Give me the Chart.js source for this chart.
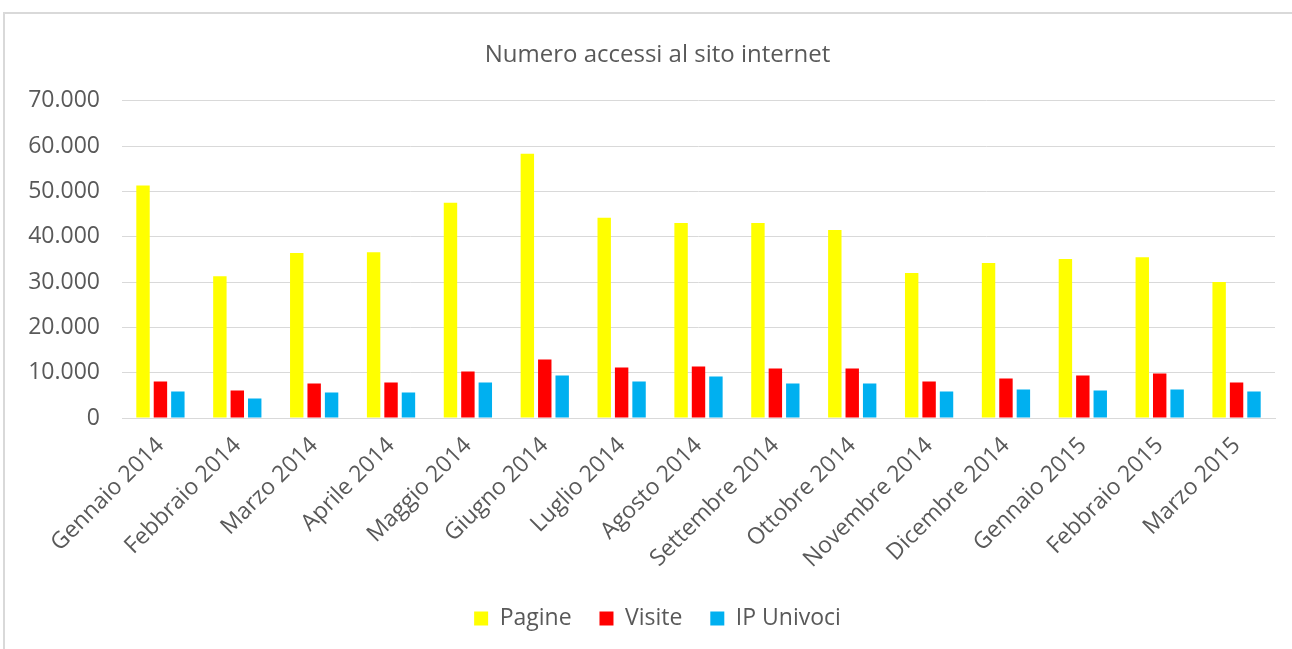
<!DOCTYPE html>
<html>
<head>
<meta charset="utf-8">
<script src="https://cdn.jsdelivr.net/npm/chart.js@4"></script>
<style>
  html, body { margin: 0; padding: 0; background: #fff; overflow: hidden; }
  #frame { position: absolute; left: 3px; top: 12px; width: 1400px; height: 700px; border: 2px solid #d9d9d9; }
  #wrap { position: absolute; left: 0; top: 0; width: 1292px; height: 649px; }
</style>
</head>
<body>
<div id="frame"></div>
<div id="wrap"><canvas id="chart"></canvas></div>
<script>
const months = [
  'Gennaio 2014','Febbraio 2014','Marzo 2014','Aprile 2014','Maggio 2014',
  'Giugno 2014','Luglio 2014','Agosto 2014','Settembre 2014','Ottobre 2014',
  'Novembre 2014','Dicembre 2014','Gennaio 2015','Febbraio 2015','Marzo 2015',
];
const pagine = [51300, 31300, 36400, 36600, 47500, 58300, 44200, 43050, 43050, 41500, 32000, 34200, 35100, 35500, 30000];
const visite = [8050, 6050, 7600, 7850, 10250, 12900, 11150, 11350, 10950, 10950, 8050, 8700, 9400, 9800, 7850];
const ipUnivoci = [5850, 4300, 5600, 5600, 7850, 9400, 8050, 9150, 7600, 7600, 5850, 6300, 6050, 6300, 5850];
const yMin = 0, yMax = 70000, yStep = 10000;

const textColor = '#595959';
const gridColor = '#d9d9d9';
const fontFamily = '"Open Sans", sans-serif';

const fmt = v => String(v).replace(/\B(?=(\d{3})+(?!\d))/g, '.');

// title and legend are centred a bit right of the canvas centre in the original
const shiftBoxes = {
  id: 'shiftBoxes',
  afterLayout(chart) {
    chart.titleBlock.left = 40;
    chart.legend.left = 40;
  }
};

new Chart(document.getElementById('chart'), {
  type: 'bar',
  data: {
    labels: months,
    datasets: [
      { label: 'Pagine', data: pagine, backgroundColor: '#ffff00' },
      { label: 'Visite', data: visite, backgroundColor: '#ff0000' },
      { label: 'IP Univoci', data: ipUnivoci, backgroundColor: '#00b0f0' },
    ]
  },
  plugins: [shiftBoxes],
  options: {
    responsive: true,
    maintainAspectRatio: false,
    animation: false,
    categoryPercentage: 0.68,
    barPercentage: 0.77,
    layout: { padding: { left: 0, right: 17, top: 0, bottom: 9 } },
    plugins: {
      title: {
        display: true,
        text: 'Numero accessi al sito internet',
        color: textColor,
        font: { family: fontFamily, size: 24, weight: 'normal' },
        padding: { top: 41, bottom: 31 },
      },
      legend: {
        position: 'bottom',
        labels: {
          color: textColor,
          font: { family: fontFamily, size: 23 },
          boxWidth: 14,
          boxHeight: 14,
          padding: 10,
          generateLabels: chart => {
            const items = Chart.defaults.plugins.legend.labels.generateLabels(chart);
            // wider gaps between entries, as in the original
            items.forEach((it, i) => { if (i < items.length - 1) it.text += '   '; });
            return items;
          },
        }
      },
      tooltip: { enabled: false },
    },
    scales: {
      x: {
        grid: { display: false },
        border: { display: true, color: gridColor },
        ticks: {
          color: textColor,
          font: { family: fontFamily, size: 23 },
          minRotation: 45,
          maxRotation: 45,
          autoSkip: false,
          padding: 6,
        },
        afterFit: s => { s.height = 179; },
      },
      y: {
        min: yMin,
        max: yMax,
        grid: { color: gridColor, lineWidth: 1, drawTicks: false },
        border: { display: false },
        ticks: {
          stepSize: yStep,
          color: textColor,
          font: { family: fontFamily, size: 23 },
          padding: 22,
          callback: v => fmt(v),
        },
        afterFit: s => { s.width = 122; },
      }
    }
  }
});
</script>
</body>
</html>
